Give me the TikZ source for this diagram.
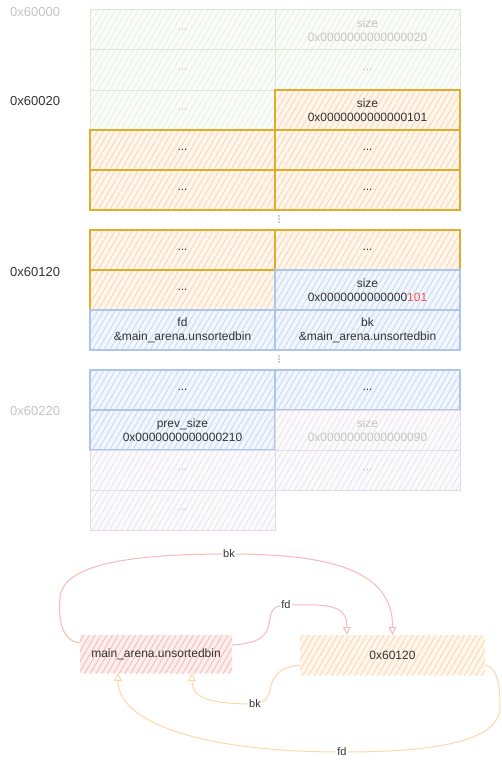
\documentclass[tikz,border=0pt]{standalone}
\usepackage{fontspec}
\setmainfont{Liberation Sans}
\usetikzlibrary{arrows.meta}
\usetikzlibrary{patterns.meta}
\usetikzlibrary{calc}
\definecolor{gline}{HTML}{D9E9D5}
\definecolor{ghatch}{HTML}{E8F2E6}
\definecolor{gfill}{HTML}{FAFCF9}
\definecolor{oline}{HTML}{E0AC2C}
\definecolor{ohatch}{HTML}{FDD6B2}
\definecolor{ofill}{HTML}{FFF7EE}
\definecolor{bline}{HTML}{AEC6EC}
\definecolor{bhatch}{HTML}{C9DAF3}
\definecolor{bfill}{HTML}{F2F6FD}
\definecolor{pline}{HTML}{E4DAEA}
\definecolor{phatch}{HTML}{EDE6F1}
\definecolor{pfill}{HTML}{FBFAFC}
\definecolor{rhatch}{HTML}{F7BDBC}
\definecolor{rfill}{HTML}{FDEEEE}
\definecolor{fadetext}{HTML}{C4C4C4}
\definecolor{darktext}{HTML}{333333}
\definecolor{mred}{HTML}{FF4D4D}
\definecolor{rarrow}{HTML}{F8B9B7}
\definecolor{oarrow}{HTML}{FFD6A8}
\tikzset{cell/.style = {minimum width = 185pt, minimum height = 40pt, inner sep = 0, align = center,
    font = \fontsize{12}{14}\selectfont, text = darktext}}
\tikzset{hatch/.style 2 args = {preaction = {fill = #2},
    pattern = {Lines[angle = 60, distance = 5pt, line width = 0.9pt]}, pattern color = #1}}
\tikzset{gcell/.style = {cell, draw = gline, line width = 1pt, hatch = {ghatch}{gfill}, text = fadetext}}
\tikzset{ocell/.style = {cell, draw = oline, line width = 1.2pt, hatch = {ohatch}{ofill}}}
\tikzset{bcell/.style = {cell, draw = bline, line width = 1.2pt, hatch = {bhatch}{bfill}}}
\tikzset{pcell/.style = {cell, draw = pline, line width = 1pt, hatch = {phatch}{pfill}, text = fadetext}}
\tikzset{addr/.style = {anchor = west, inner sep = 0, font = \fontsize{13}{15}\selectfont}}
\tikzset{lbl/.style = {fill = white, inner sep = 1pt, text = darktext, font = \fontsize{11}{13}\selectfont}}
\tikzset{circ/.style = {fill = darktext, circle, inner sep = 0, minimum size = 1.2pt}}
\tikzset{link/.style = {line width = 1pt, -{Triangle[open, length = 8pt, width = 8pt]}}}

\begin{document}
\begin{tikzpicture}[x = 1pt, y = -1pt]
      \useasboundingbox (0, 0) rectangle (502, 760);
      % addresses
      \node [addr, text = fadetext] (a60000) at (10, 12) {0x60000};
      \node [addr, text = darktext] (a60020) at (10, 101) {0x60020};
      \node [addr, text = darktext] (a60120) at (10, 272) {0x60120};
      \node [addr, text = fadetext] (a60220) at (10, 411) {0x60220};
      % first chunk
      \node [gcell] (r1l) at (182.5, 30) {...};
      \node [gcell] (r1r) at (367.5, 30) {size\\0x0000000000000020};
      \node [gcell] (r2l) at (182.5, 70) {...};
      \node [gcell] (r2r) at (367.5, 70) {...};
      \node [gcell] (r3l) at (182.5, 110) {...};
      % victim chunk
      \node [ocell] (r3r) at (367.5, 110) {size\\0x0000000000000101};
      \node [ocell] (r4l) at (182.5, 150) {...};
      \node [ocell] (r4r) at (367.5, 150) {...};
      \node [ocell] (r5l) at (182.5, 190) {...};
      \node [ocell] (r5r) at (367.5, 190) {...};
      \node [circ] (d1a) at (279, 216) {};
      \node [circ] (d1b) at (279, 219) {};
      \node [circ] (d1c) at (279, 222) {};
      \node [ocell] (r6l) at (182.5, 250) {...};
      \node [ocell] (r6r) at (367.5, 250) {...};
      \node [ocell] (r7l) at (182.5, 290) {...};
      % fake chunk
      \node [bcell] (r7r) at (367.5, 290) {size\\0x0000000000000\textcolor{mred}{101}};
      \node [bcell] (r8l) at (182.5, 330) {fd\\\&main\_arena.unsortedbin};
      \node [bcell] (r8r) at (367.5, 330) {bk\\\&main\_arena.unsortedbin};
      \node [circ] (d2a) at (279, 356) {};
      \node [circ] (d2b) at (279, 359) {};
      \node [circ] (d2c) at (279, 362) {};
      \node [bcell] (r9l) at (182.5, 390) {...};
      \node [bcell] (r9r) at (367.5, 390) {...};
      \node [bcell] (r10l) at (182.5, 430) {prev\_size\\0x0000000000000210};
      % next chunk
      \node [pcell] (r10r) at (367.5, 430) {size\\0x0000000000000090};
      \node [pcell] (r11l) at (182.5, 470) {...};
      \node [pcell] (r11r) at (367.5, 470) {...};
      \node [pcell] (r12l) at (182.5, 510) {...};
      % unsorted bin list
      \node [cell, minimum width = 152pt, minimum height = 38pt, hatch = {rhatch}{rfill}] (ub) at (156, 654) {main\_arena.unsortedbin};
      \node [cell, hatch = {ohatch}{ofill}] (ck) at (392.5, 655) {0x60120};
      \draw [link, rarrow]
        ($(ub.west) + (0, -11)$) .. controls (62, 641) and (58, 620) .. (60, 598)
        .. controls (62, 560) and (150, 554) .. (229, 554) node [lbl] (bk1) {bk}
        .. controls (330, 554) and (393, 570) .. (ck.north);
      \draw [link, rarrow]
        ($(ub.east) + (0, -9)$) .. controls (266, 643) and (268, 632) .. (270, 618)
        .. controls (272, 607) and (278, 605) .. (286, 605) node [lbl] (fd1) {fd}
        .. controls (330, 604) and (347, 605) .. ($(ck.north west) + (47, 0)$);
      \draw [link, oarrow]
        ($(ck.west) + (0, 10)$) .. controls (276, 667) and (272, 680) .. (270, 690)
        .. controls (268, 700) and (262, 704) .. (255, 704) node [lbl] (bk2) {bk}
        .. controls (202, 704) and (192, 695) .. ($(ub.south) + (36, 0)$);
      \draw [link, oarrow]
        ($(ck.east) + (0, 10)$) .. controls (499, 668) and (500, 690) .. (500, 707)
        .. controls (500, 745) and (420, 752) .. (342, 752) node [lbl] (fd2) {fd}
        .. controls (200, 752) and (118, 722) .. ($(ub.south) + (-38, 0)$);
    \end{tikzpicture}
\end{document}
